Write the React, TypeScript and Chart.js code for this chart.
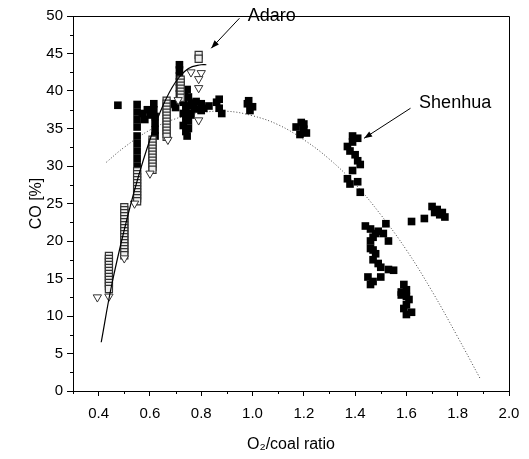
import React, { useEffect, useRef } from "react";
import { Chart, registerables } from "chart.js";

Chart.register(...registerables);

// ---- data ----
const xTickValues = [0.4, 0.6, 0.8, 1.0, 1.2, 1.4, 1.6, 1.8, 2.0];
const yTickValues = [0, 5, 10, 15, 20, 25, 30, 35, 40, 45, 50];
const xMinorTicks = [0.3, 0.5, 0.7, 0.9, 1.1, 1.3, 1.5, 1.7, 1.9];
const yMinorTicks = [2.5, 7.5, 12.5, 17.5, 22.5, 27.5, 32.5, 37.5, 42.5, 47.5];

const shenhuaPoints: [number, number][] = [
  [0.475, 38.1],
  [0.55, 38.2], [0.55, 37.2], [0.55, 36.2], [0.55, 35.2], [0.55, 34.0], [0.55, 33.0],
  [0.55, 32.0], [0.55, 31.0], [0.55, 30.0], [0.55, 29.2],
  [0.57, 37.0], [0.58, 36.2], [0.59, 37.5], [0.6, 36.8],
  [0.615, 38.3], [0.615, 37.5], [0.62, 36.6], [0.62, 35.7], [0.62, 34.8], [0.62, 34.0],
  [0.67, 38.2], [0.69, 38.3], [0.7, 37.8],
  [0.715, 43.5], [0.715, 42.8], [0.715, 42.0], [0.715, 41.2], [0.715, 40.4], [0.715, 39.6], [0.72, 38.8],
  [0.73, 38.5], [0.74, 37.8], [0.73, 37.0], [0.74, 36.2], [0.73, 35.4], [0.74, 34.6], [0.745, 34.0],
  [0.75, 35.0], [0.75, 36.0], [0.75, 37.0], [0.735, 39.5], [0.745, 40.2],
  [0.76, 38.4], [0.75, 39.2], [0.755, 38.0], [0.76, 36.8], [0.77, 38.3], [0.775, 37.6], [0.78, 38.6],
  [0.8, 38.3], [0.81, 37.7], [0.8, 37.4], [0.83, 38.0], [0.86, 38.5], [0.87, 37.7], [0.88, 37.0], [0.87, 38.9],
  [0.98, 38.3], [1.0, 37.9], [0.99, 37.4], [0.985, 38.7],
  [1.17, 35.2], [1.19, 35.8], [1.2, 34.9], [1.21, 34.4], [1.185, 34.2], [1.2, 35.6],
  [1.39, 34.0], [1.41, 33.7], [1.37, 32.6], [1.38, 32.0], [1.4, 31.5], [1.41, 30.7], [1.42, 30.2],
  [1.39, 29.4], [1.37, 28.3], [1.38, 27.6], [1.41, 27.9], [1.42, 26.5], [1.39, 33.2],
  [1.44, 22.0], [1.46, 21.6], [1.49, 21.3], [1.51, 21.0], [1.52, 22.3], [1.53, 20.0], [1.47, 20.5],
  [1.48, 21.0], [1.46, 20.0],
  [1.46, 19.0], [1.48, 18.3], [1.47, 17.5], [1.49, 17.0], [1.5, 16.5], [1.53, 16.2], [1.55, 16.1],
  [1.45, 15.2], [1.47, 14.6], [1.46, 14.2], [1.5, 15.2], [1.47, 18.8],
  [1.59, 14.2], [1.6, 13.5], [1.58, 13.2], [1.58, 12.8], [1.61, 12.2], [1.6, 11.5], [1.59, 11.0],
  [1.62, 10.5], [1.6, 10.2], [1.6, 12.6],
  [1.62, 22.6], [1.67, 23.0], [1.7, 24.6], [1.72, 24.2], [1.71, 23.8], [1.73, 23.5], [1.75, 23.2], [1.74, 23.8],
];

const adaroSquarePoints: [number, number][] = [
  [0.44, 18.0], [0.44, 17.6], [0.44, 17.2], [0.44, 16.8], [0.44, 16.4], [0.44, 16.0], [0.44, 15.6],
  [0.44, 15.2], [0.44, 14.8], [0.44, 14.4], [0.44, 14.0], [0.44, 13.6],
  [0.5, 24.5], [0.5, 24.1], [0.5, 23.7], [0.5, 23.3], [0.5, 22.9], [0.5, 22.5], [0.5, 22.1],
  [0.5, 21.7], [0.5, 21.3], [0.5, 20.9], [0.5, 20.5], [0.5, 20.1], [0.5, 19.7], [0.5, 19.3],
  [0.5, 18.9], [0.5, 18.5], [0.5, 18.1],
  [0.55, 29.3], [0.55, 28.9], [0.55, 28.5], [0.55, 28.1], [0.55, 27.7], [0.55, 27.3],
  [0.55, 26.9], [0.55, 26.5], [0.55, 26.1], [0.55, 25.7], [0.55, 25.3],
  [0.61, 33.5], [0.61, 33.1], [0.61, 32.7], [0.61, 32.3], [0.61, 31.9], [0.61, 31.5],
  [0.61, 31.1], [0.61, 30.7], [0.61, 30.3], [0.61, 29.9], [0.61, 29.5],
  [0.665, 38.7], [0.665, 38.3], [0.665, 37.9], [0.665, 37.5], [0.665, 37.1], [0.665, 36.7],
  [0.665, 36.3], [0.665, 35.9], [0.665, 35.5], [0.665, 35.1], [0.665, 34.7], [0.665, 34.3], [0.665, 33.9],
  [0.72, 41.5], [0.72, 41.1], [0.72, 40.7], [0.72, 40.3], [0.72, 39.9], [0.72, 39.5], [0.72, 39.1],
  [0.79, 44.8], [0.79, 44.3],
];

const adaroTrianglePoints: [number, number][] = [
  [0.395, 12.5], [0.44, 12.6], [0.5, 17.7], [0.54, 25.0], [0.6, 29.0], [0.67, 33.5],
  [0.71, 38.8], [0.76, 42.5], [0.8, 42.4], [0.79, 41.6], [0.79, 40.4], [0.79, 36.1],
];

const adaroFit: [number, number][] = [
  [0.41, 6.5], [0.45, 14.0], [0.5, 21.5], [0.55, 28.0], [0.6, 33.5], [0.65, 38.0],
  [0.7, 41.2], [0.75, 43.0], [0.8, 43.5], [0.82, 43.5],
];

const shenhuaFit: [number, number][] = [
  [0.43, 30.5], [0.5, 32.5], [0.6, 34.8], [0.7, 36.3], [0.8, 37.1], [0.9, 37.3], [1.0, 36.7],
  [1.1, 35.5], [1.2, 33.5], [1.3, 30.9], [1.4, 27.6], [1.5, 23.5], [1.6, 18.8], [1.7, 13.3],
  [1.8, 7.2], [1.89, 1.5],
];

const annotations = [
  { text: "Adaro", x: 1.075, y: 50.0, fromX: 0.949, fromY: 49.7, toX: 0.839, toY: 45.7 },
  { text: "Shenhua", x: 1.79, y: 38.4, fromX: 1.616, fromY: 37.7, toX: 1.435, toY: 33.7 },
];

const FONT = "'Liberation Sans', Arial, Helvetica, sans-serif";

const toXY = (arr: [number, number][]) => arr.map(([x, y]) => ({ x, y }));

const framePlugin = {
  id: "frameAndNotes",
  afterDatasetsDraw(chart: any) {
    const { ctx, chartArea, scales } = chart;
    const xs = scales.x;
    const ys = scales.y;
    ctx.save();
    ctx.strokeStyle = "#000";
    ctx.lineWidth = 1;
    ctx.beginPath();
    ctx.moveTo(chartArea.left, chartArea.top + 0.5);
    ctx.lineTo(chartArea.right + 0.5, chartArea.top + 0.5);
    ctx.lineTo(chartArea.right + 0.5, chartArea.bottom);
    ctx.stroke();
    ctx.beginPath();
    xMinorTicks.forEach((v) => {
      const px = Math.round(xs.getPixelForValue(v)) + 0.5;
      ctx.moveTo(px, chartArea.bottom);
      ctx.lineTo(px, chartArea.bottom + 3);
    });
    yMinorTicks.forEach((v) => {
      const py = Math.round(ys.getPixelForValue(v)) + 0.5;
      ctx.moveTo(chartArea.left, py);
      ctx.lineTo(chartArea.left - 3, py);
    });
    ctx.stroke();
    ctx.fillStyle = "#000";
    ctx.font = `18px ${FONT}`;
    ctx.textAlign = "center";
    ctx.textBaseline = "middle";
    annotations.forEach((a) => {
      const tx = xs.getPixelForValue(a.x);
      const ty = ys.getPixelForValue(a.y);
      ctx.fillText(a.text, tx, ty);
      const x1 = xs.getPixelForValue(a.fromX);
      const y1 = ys.getPixelForValue(a.fromY);
      const x2 = xs.getPixelForValue(a.toX);
      const y2 = ys.getPixelForValue(a.toY);
      ctx.beginPath();
      ctx.moveTo(x1, y1);
      ctx.lineTo(x2, y2);
      ctx.stroke();
      const ang = Math.atan2(y2 - y1, x2 - x1);
      const L = 8, W = 3;
      ctx.beginPath();
      ctx.moveTo(x2, y2);
      ctx.lineTo(x2 - L * Math.cos(ang) + W * Math.sin(ang), y2 - L * Math.sin(ang) - W * Math.cos(ang));
      ctx.lineTo(x2 - L * Math.cos(ang) - W * Math.sin(ang), y2 - L * Math.sin(ang) + W * Math.cos(ang));
      ctx.closePath();
      ctx.fill();
    });
    ctx.restore();
  },
};

export default function App() {
  const ref = useRef<HTMLCanvasElement | null>(null);
  useEffect(() => {
    if (!ref.current) return;
    const chart = new Chart(ref.current, {
      type: "scatter",
      data: {
        datasets: [
          {
            label: "Adaro fit",
            data: toXY(adaroFit),
            showLine: true,
            borderColor: "#000",
            borderWidth: 1.2,
            pointRadius: 0,
            tension: 0.4,
            order: 0,
          } as any,
          {
            label: "Adaro (triangles)",
            data: toXY(adaroTrianglePoints),
            pointStyle: "triangle",
            rotation: 180,
            pointRadius: 4.8,
            backgroundColor: "#fff",
            borderColor: "#333",
            borderWidth: 1,
            order: 1,
          } as any,
          {
            label: "Adaro",
            data: toXY(adaroSquarePoints),
            pointStyle: "rect",
            pointRadius: 5,
            backgroundColor: "#eee",
            borderColor: "#333",
            borderWidth: 1.2,
            order: 2,
          } as any,
          {
            label: "Shenhua",
            data: toXY(shenhuaPoints),
            pointStyle: "rect",
            pointRadius: 5.4,
            backgroundColor: "#000",
            borderColor: "#000",
            borderWidth: 0,
            order: 3,
          } as any,
          {
            label: "Shenhua fit",
            data: toXY(shenhuaFit),
            showLine: true,
            borderColor: "#444",
            borderWidth: 1,
            borderDash: [1, 2],
            pointRadius: 0,
            tension: 0.4,
            order: 4,
          } as any,
        ],
      },
      options: {
        animation: false,
        responsive: false,
        devicePixelRatio: 1,
        layout: { padding: { left: 0, right: 20, top: 16, bottom: 0 } },
        plugins: { legend: { display: false }, tooltip: { enabled: false } },
        scales: {
          x: {
            type: "linear",
            min: 0.3,
            max: 2.0,
            afterBuildTicks: (s: any) => {
              s.ticks = xTickValues.map((v) => ({ value: v }));
            },
            afterFit: (s: any) => {
              s.height = 68;
            },
            ticks: {
              color: "#000",
              font: { family: FONT, size: 15 },
              padding: 9,
              maxRotation: 0,
              autoSkip: false,
              callback: (v: any) => Number(v).toFixed(1),
            },
            grid: { drawOnChartArea: false, drawTicks: true, tickLength: 5, color: "#000" },
            border: { display: true, color: "#000", width: 1 },
            title: {
              display: true,
              text: "O₂/coal ratio",
              color: "#000",
              font: { family: FONT, size: 16 },
              padding: { top: 0, bottom: 5 },
            },
          },
          y: {
            type: "linear",
            min: 0,
            max: 50,
            afterBuildTicks: (s: any) => {
              s.ticks = yTickValues.map((v) => ({ value: v }));
            },
            afterFit: (s: any) => {
              s.width = 73;
            },
            ticks: {
              color: "#000",
              font: { family: FONT, size: 15 },
              padding: 4,
              autoSkip: false,
              callback: (v: any) => String(v),
            },
            grid: { drawOnChartArea: false, drawTicks: true, tickLength: 6, color: "#000" },
            border: { display: true, color: "#000", width: 1 },
            title: {
              display: true,
              text: "CO [%]",
              color: "#000",
              font: { family: FONT, size: 16 },
              padding: { top: 27, bottom: 0 },
            },
          },
        },
      },
      plugins: [framePlugin],
    } as any);
    return () => chart.destroy();
  }, []);
  return (
    <div style={{ position: "fixed", left: 0, top: 0, width: 529, height: 459, background: "#fff" }}>
      <canvas ref={ref} width={529} height={459} style={{ width: 529, height: 459, display: "block" }} />
    </div>
  );
}
